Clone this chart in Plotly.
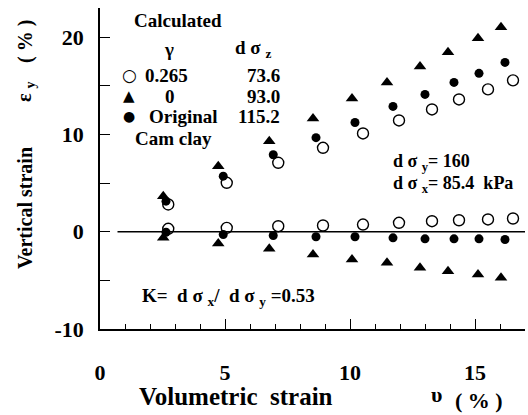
import plotly.graph_objects as go

# Volumetric strain (%) for each calculated series
vol_open = [2.73, 5.07, 7.13, 8.92, 10.52, 11.96, 13.28, 14.36, 15.52, 16.52]
vol_tri = [2.53, 4.73, 6.77, 8.52, 10.08, 11.48, 12.80, 13.92, 15.12, 16.04]
vol_dot = [2.64, 4.93, 6.93, 8.64, 10.20, 11.72, 13.00, 14.16, 15.16, 16.20]

# gamma = 0.265 (open circles)
eps_open_up = [2.80, 5.03, 7.09, 8.63, 10.10, 11.44, 12.57, 13.60, 14.63, 15.56]
eps_open_lo = [0.30, 0.40, 0.57, 0.64, 0.74, 0.92, 1.08, 1.18, 1.26, 1.36]
# gamma = 0 (triangles)
eps_tri_up = [3.65, 6.74, 9.31, 11.65, 13.70, 15.35, 16.99, 18.44, 19.88, 21.01]
eps_tri_lo = [-0.63, -1.21, -1.76, -2.35, -2.86, -3.20, -3.71, -4.06, -4.40, -4.74]
# Original Cam clay (filled circles)
eps_dot_up = [3.14, 5.71, 7.91, 9.67, 11.23, 12.88, 14.12, 15.35, 16.28, 17.41]
eps_dot_lo = [-0.05, -0.29, -0.39, -0.52, -0.52, -0.63, -0.73, -0.73, -0.73, -0.80]

x_ticks = [0, 5, 10, 15]
y_ticks = [-10, 0, 10, 20]

W, H = 528, 415
ML, MR, MT, MB = 100, 3, 8, 86
PW, PH = W - ML - MR, H - MT - MB
SERIF = "Liberation Serif"


def px(x):
    return (x - ML) / PW


def py(y):
    return (H - MB - y) / PH


fig = go.Figure()

marker_open = dict(symbol="circle-open", size=11, color="black", line=dict(width=1.4, color="black"))
marker_tri = dict(symbol="triangle-up", size=11, color="black")
marker_dot = dict(symbol="circle", size=9, color="black")

for xs, ys, mk in [
    (vol_tri, eps_tri_up, marker_tri), (vol_tri, eps_tri_lo, marker_tri),
    (vol_dot, eps_dot_up, marker_dot), (vol_dot, eps_dot_lo, marker_dot),
    (vol_open, eps_open_up, marker_open), (vol_open, eps_open_lo, marker_open),
]:
    fig.add_trace(go.Scatter(x=xs, y=ys, mode="markers", marker=mk,
                             showlegend=False, hoverinfo="skip", cliponaxis=False))

# zero reference line
fig.add_shape(type="line", xref="x", yref="y", x0=0.7, x1=17, y0=0, y1=0,
              line=dict(color="black", width=1.5))

ann = []


def text(s, x, y, size=19, xanchor="center", yanchor="middle", family=SERIF, bold=True, angle=0):
    ann.append(dict(text=(f"<b>{s}</b>" if bold else s), x=px(x), y=py(y), xref="paper", yref="paper",
                    xanchor=xanchor, yanchor=yanchor, showarrow=False, textangle=angle,
                    font=dict(family=family, size=size, color="black")))


# key block
text("Calculated", 132, 20, xanchor="left")
text("γ", 169, 49)
text("d σ <sub>z</sub>", 233, 49, xanchor="left")
text("○", 129, 75, size=17, family="DejaVu Sans", bold=False)
text("0.265", 143, 75, xanchor="left")
text("73.6", 282, 75, xanchor="right")
text("▲", 129, 96, size=15, family="DejaVu Sans", bold=False)
text("0", 170, 96)
text("93.0", 282, 96, xanchor="right")
text("●", 129, 116, size=14, family="DejaVu Sans", bold=False)
text("Original", 147, 116, xanchor="left")
text("115.2", 282, 116, xanchor="right")
text("Cam clay", 133, 138, xanchor="left")

# loading conditions
text("d σ <sub>y</sub>= 160", 391, 162, size=18, xanchor="left")
text("d σ <sub>x</sub>= 85.4  kPa", 391, 184, size=18, xanchor="left")
text("K=  d σ <sub>x</sub>/  d σ <sub>y</sub> =0.53", 140, 297, xanchor="left")

# axis titles
text("Volumetric  strain", 236, 396, size=25)
text("υ", 436, 394, size=22)
text("( % )", 479, 400, size=22)
text("Vertical strain", 25, 208, size=20, angle=-90)
text("ε <sub>y</sub>", 25, 92, size=20, angle=-90)
text("( % )", 25, 42, size=20, angle=-90)

fig.update_layout(
    width=W, height=H,
    margin=dict(l=ML, r=MR, t=MT, b=MB),
    paper_bgcolor="white", plot_bgcolor="white",
    annotations=ann,
    xaxis=dict(range=[0, 17], showgrid=False, zeroline=False,
               showline=True, linecolor="black", linewidth=1.5,
               ticks="inside", ticklen=10, tickwidth=1.2, tickcolor="black",
               tickvals=x_ticks, ticktext=[f"<b>{v}</b>" for v in x_ticks],
               tickfont=dict(family=SERIF, size=22, color="black"),
               ticklabelstandoff=23,
               minor=dict(ticks="inside", ticklen=5, tickwidth=1.2, tickcolor="black", dtick=1)),
    yaxis=dict(range=[-10, 23], showgrid=False, zeroline=False,
               showline=True, linecolor="black", linewidth=1.5,
               ticks="inside", ticklen=10, tickwidth=1.2, tickcolor="black",
               tickvals=y_ticks, ticktext=[f"<b>{v}</b>" for v in y_ticks],
               tickfont=dict(family=SERIF, size=22, color="black"),
               ticklabelstandoff=10,
               minor=dict(ticks="inside", ticklen=10, tickwidth=1.2, tickcolor="black", dtick=5)),
)

fig.write_html("out.html")
